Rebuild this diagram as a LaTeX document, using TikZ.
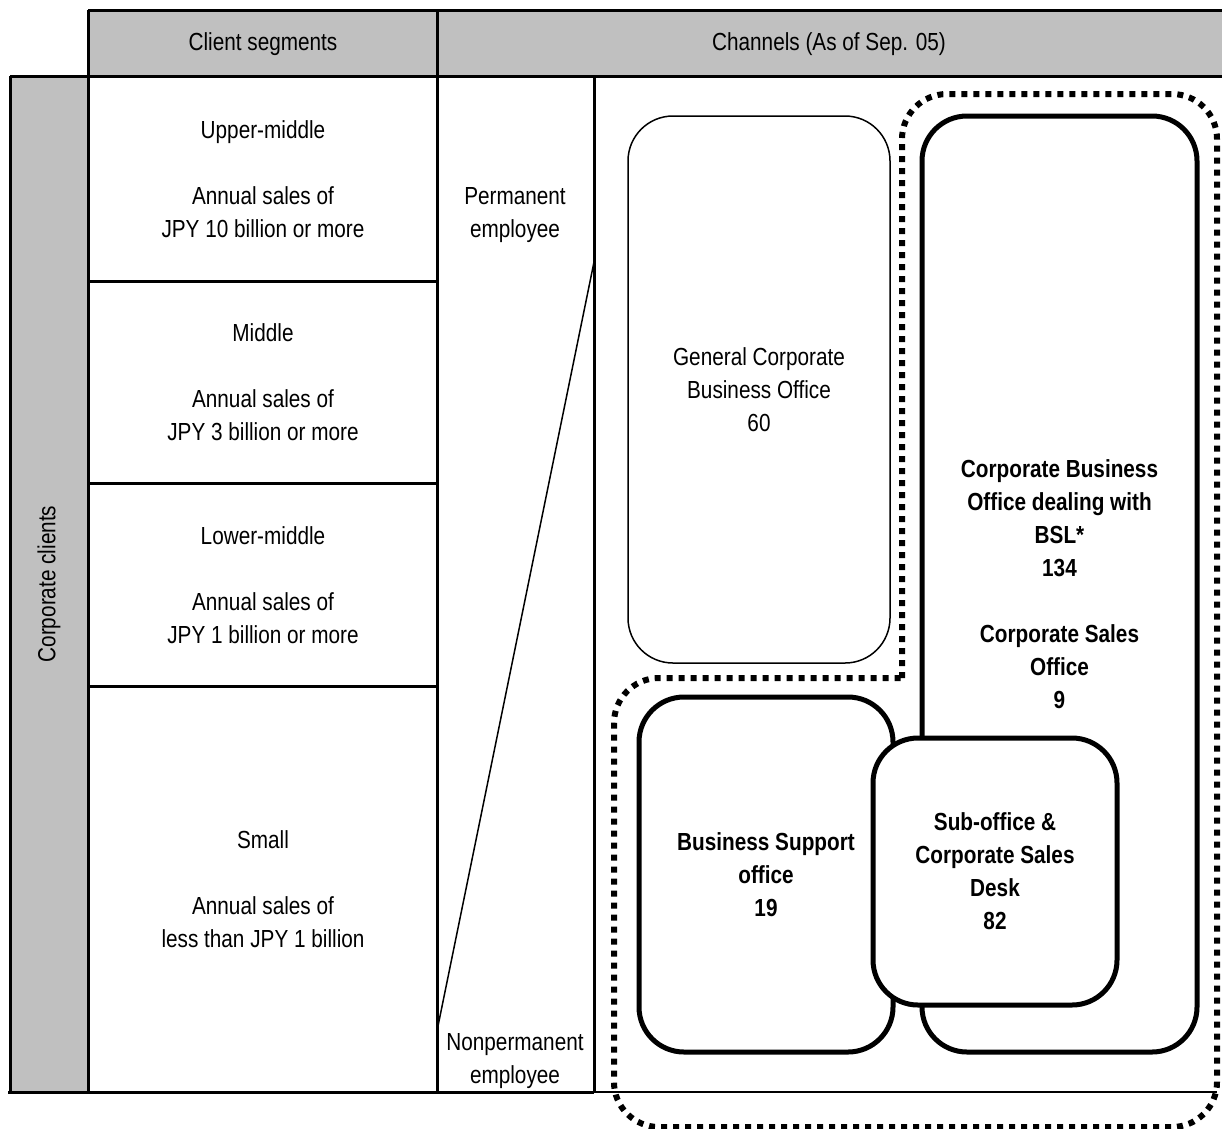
\documentclass[tikz,border=0pt]{standalone}
\usepackage{fontspec}
\setmainfont{Liberation Sans}[FakeStretch=0.84]
\usepackage{tikz}
\usetikzlibrary{positioning}
\definecolor{headgray}{HTML}{C0C0C0}

\begin{document}
\begin{tikzpicture}[x=1pt, y=-1pt,
      every node/.style={font=\fontsize{24.7}{33}\selectfont, align=center, inner sep=0pt},
      rule/.style={draw=black, line width=3pt},
      thinrule/.style={draw=black, line width=1.5pt},
      chanthin/.style={draw=black, line width=1.5pt, rounded corners=45pt, fill=white},
      chanbold/.style={draw=black, line width=5pt, rounded corners=45pt, fill=white,
                       font=\fontsize{24.7}{33}\selectfont\bfseries},
      dotline/.style={draw=black, line width=6pt, dash pattern=on 6pt off 6pt, rounded corners=45pt},
    ]
    \useasboundingbox (0,0) rectangle (1222,1128);

    % table frame
    \fill[headgray] (88,10) rectangle (1222,76);
    \fill[headgray] (10,76) rectangle (88,1092);
    \draw[rule] (88,10) -- (1222,10);
    \draw[rule] (10,76) -- (1222,76);
    \draw[rule] (10,76) -- (10,1092);
    \draw[rule] (88,10) -- (88,1092);
    \draw[rule] (437,10) -- (437,1092);
    \draw[rule] (594,76) -- (594,1092);
    \draw[rule] (8,1092) -- (594,1092);
    \draw[thinrule] (594,1092) -- (1217,1092);
    \draw[rule] (88,281) -- (437,281);
    \draw[rule] (88,483) -- (437,483);
    \draw[rule] (88,686) -- (437,686);

    \node (hclient)  at (263,44) {Client segments};
    \node (hchannel) at (829,44) {Channels (As of Sep. 05)};
    \node[rotate=90] (corp) at (49,584) {Corporate clients};

    \node (upmid)  at (263,179) {Upper-middle\\[33pt]Annual sales of\\JPY 10 billion or more};
    \node (mid)    at (263,382) {Middle\\[33pt]Annual sales of\\JPY 3 billion or more};
    \node (lowmid) at (263,585) {Lower-middle\\[33pt]Annual sales of\\JPY 1 billion or more};
    \node (small)  at (263,889) {Small\\[33pt]Annual sales of\\less than JPY 1 billion};

    \node (perm) at (515,215) {Permanent\\employee};
    \node[anchor=south] (nonperm) at (515,1089) {Nonpermanent\\employee};
    \coordinate (slanttop) at (594,262);
    \coordinate (slantbot) at (438,1026);
    \draw[thinrule] (slanttop) -- (slantbot);

    % channels
    \node[chanthin, minimum width=262, minimum height=547] (gcbo) at (759,389.5)
      {General Corporate\\Business Office\\60};
    \node[chanbold, minimum width=275, minimum height=936] (bslbox) at (1059.5,584)
      {Corporate Business\\Office dealing with\\BSL*\\134\\[33pt]Corporate Sales\\Office\\9};
    \node[chanbold, minimum width=254, minimum height=355] (bsobox) at (766,874.5)
      {Business Support\\office\\19};
    \node[chanbold, minimum width=244, minimum height=267] (subbox) at (995,871.5)
      {Sub-office \&\\Corporate Sales\\Desk\\82};

    \draw[dotline] (902,678) -- (902,94) -- (1217,94) -- (1217,1127)
      -- (614,1127) -- (614,678) -- (902,678);
    \end{tikzpicture}
\end{document}
